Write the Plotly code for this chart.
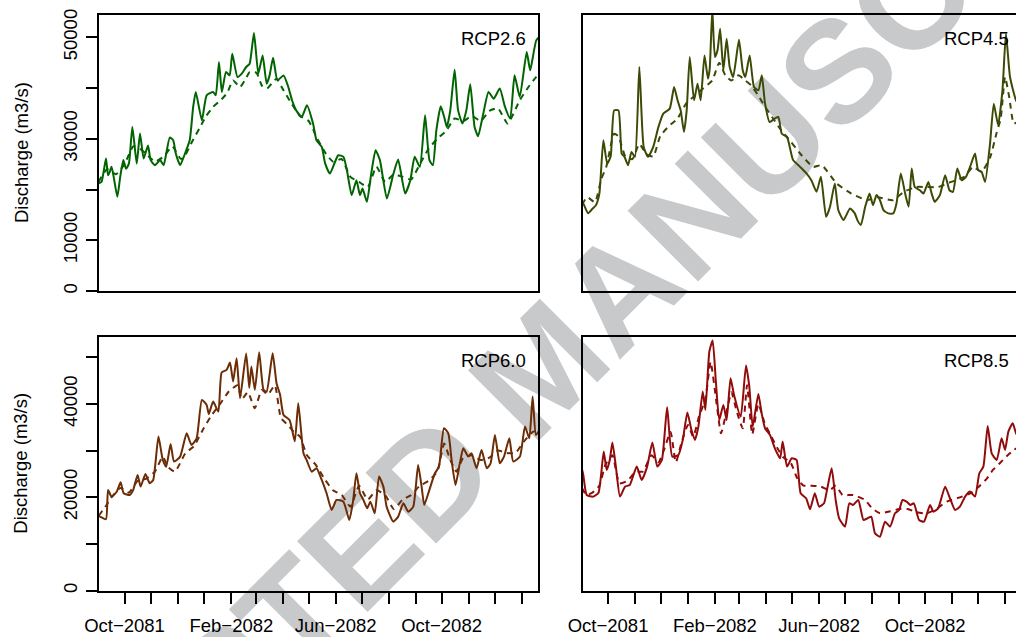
import pandas as pd
import plotly.graph_objects as go

# ---------------- data (day offsets from 2081-09-01, discharge m3/s) ----------------
rcp26_solid_day = [0, 3.5, 8.6, 11, 13, 15, 17.5, 21.7, 25, 28.6, 31.7, 35, 39, 44, 47.8, 52, 57, 60, 65, 71,
                   75, 82, 86, 89, 94, 99.6, 105, 109, 112, 119, 124.5, 132, 135, 138.7, 142, 146.8, 151, 154, 160, 165,
                   170, 174, 179, 184, 189, 193.6, 197, 201, 206, 213, 218, 223, 228, 234, 240, 247, 251, 257, 261, 266.5,
                   276, 282, 286, 291.5, 297, 301, 304, 309, 314, 319, 324, 332, 339.6, 345, 353, 359, 364, 370, 376, 381,
                   385, 389, 394, 398, 401, 405, 410, 414, 419, 423.5, 428, 433, 437, 443, 449, 455, 462, 468, 474, 479,
                   485, 493, 497, 504, 510]
rcp26_solid_q = [21190, 21500, 26100, 22800, 23500, 24500, 22500, 18560, 22500, 25800, 24100, 25100, 32340, 25100, 31030, 26100, 28700, 25800, 24800, 25800,
                 24800, 30240, 29700, 27100, 24800, 27100, 29700, 36280, 39230, 33650, 38570, 39230, 38570, 45130, 39230, 43160, 42500, 46770, 42180, 42840,
                 44150, 44800, 50840, 42840, 46440, 40870, 42500, 45990, 41520, 42500, 40500, 37500, 35500, 34300, 36600, 33000, 29700, 28400, 25100, 23150,
                 26760, 26440, 23800, 18900, 21840, 18900, 20200, 17580, 23150, 27750, 25800, 18240, 23150, 25900, 19200, 21840, 26440, 24470, 34640, 25800,
                 24800, 31700, 36400, 34300, 32340, 35600, 43600, 35600, 33000, 35600, 40740, 32340, 30500, 34960, 39230, 37900, 39900, 36300, 33980, 42500,
                 38240, 47100, 43500, 49400, 50500]
rcp26_dash_day = [0, 10, 20, 30, 40, 48, 55, 65, 75, 85, 95, 100, 108, 117, 124, 132, 140, 148, 155, 163,
                  170, 174, 182, 188, 194, 200, 205, 213, 222, 232, 242, 252, 262, 270, 280, 290, 300, 310, 320, 330,
                  340, 350, 360, 370, 380, 390, 400, 410, 420, 430, 440, 450, 460, 471, 485, 495, 504, 510]
rcp26_dash_q = [21500, 24000, 23000, 25000, 28500, 28000, 27000, 25500, 26500, 28500, 26000, 26800, 29500, 32300, 34500, 36300, 37500, 39000, 41500, 40200,
                42000, 43160, 43000, 40500, 39900, 41000, 41850, 39560, 37000, 34500, 33500, 30000, 27000, 25500, 26000, 22500, 21500, 20500, 24500, 21500,
                23000, 22500, 22000, 25000, 28000, 30000, 31500, 34000, 33500, 34500, 33500, 35500, 36000, 33000, 37600, 40200, 42200, 43000]

rcp45_solid_day = [0, 1.5, 7, 12, 16, 20, 24.6, 29, 33, 37, 42, 45.7, 49, 53, 57, 61, 66, 71, 76, 82,
                   88, 93.6, 101, 106, 110, 113.6, 117.4, 120.5, 124, 129, 133, 136.6, 141, 145, 147, 150, 153, 156, 159, 162.7,
                   166.5, 170, 174, 180.7, 185, 188, 193, 198, 203, 207, 210.7, 216, 222, 226, 230, 236, 243, 251, 258.6, 264,
                   270, 275, 281, 285.5, 291, 295, 301, 308.5, 314, 317, 321, 326, 331, 335, 339, 343, 347, 352.6, 358.4, 362,
                   367, 372, 376, 379.5, 383, 389, 393, 398.7, 402.5, 406, 412, 418, 423, 427, 432, 437, 442, 446.7, 452.4, 456,
                   460, 464, 469.7, 474, 479, 484, 488, 492.7, 499.6, 506]
rcp45_solid_q = [17500, 17250, 15300, 16200, 16900, 19200, 29700, 25100, 26500, 35600, 35600, 27100, 26440, 24800, 27400, 26440, 44150, 28400, 26440, 28400,
                 32340, 34960, 35950, 40200, 37590, 35600, 31360, 35600, 46120, 37590, 40870, 37590, 46440, 41850, 43800, 55500, 46120, 47450, 51700, 43500,
                 49700, 44150, 42180, 49500, 43500, 42180, 46440, 40200, 39560, 42500, 36930, 33300, 34000, 34300, 31000, 30370, 25800, 24470, 23150, 21840,
                 19550, 22500, 14630, 16600, 21200, 15960, 13970, 16270, 15300, 13970, 13000, 16600, 19200, 16920, 18900, 17900, 15960, 15300, 15300, 17250,
                 23150, 19200, 16600, 24140, 20500, 19860, 19200, 21500, 19200, 17580, 18900, 22830, 19860, 19530, 24140, 21840, 22500, 24470, 27100, 23800,
                 23470, 21500, 29060, 36930, 32670, 39560, 50700, 42180, 37590, 36000]
rcp45_dash_day = [0, 6, 15, 22, 28, 37, 42, 50, 58, 66, 74, 82, 90, 100, 110, 120, 130, 140, 150, 158,
                  165, 172, 180, 188, 195, 203, 210, 220, 230, 240, 251, 266, 276, 293, 310, 328, 340, 358, 370, 385,
                  397, 410, 425, 440, 450, 460, 470, 477, 482, 487, 492, 497, 503]
rcp45_dash_q = [17000, 18500, 17500, 22000, 24500, 31000, 30500, 26500, 26000, 29000, 27000, 26500, 30500, 32500, 34000, 37000, 38500, 40000, 41500, 45000,
                42500, 41500, 42500, 41500, 40500, 38500, 36500, 34000, 31500, 29500, 27100, 24470, 24800, 21200, 19200, 17900, 18500, 17900, 19500, 20500,
                20500, 20500, 21500, 22500, 24470, 23500, 26440, 31000, 34000, 42180, 38000, 33000, 33500]

rcp60_solid_day = [0, 1.7, 8.6, 11, 15, 21, 25.5, 29, 36, 40, 45, 48.5, 54, 59, 63, 69, 74, 78, 83, 87,
                   94, 101.5, 107, 113, 119, 124.5, 127, 132, 138, 141.8, 147.6, 151.4, 155, 159, 163, 170, 173.6, 176, 180, 185,
                   190, 193.6, 200.5, 205, 209, 213, 220, 226, 230, 236, 239.6, 245.4, 251, 257, 262.6, 268.4, 274, 282, 288.7, 293,
                   297, 301, 305, 309.4, 313, 318, 323, 328, 331.7, 339.4, 345, 351, 356.6, 362.4, 368, 372, 375, 379.7, 387.3, 392,
                   397.7, 402.7, 406.5, 411, 416, 420, 425.7, 429.5, 435.3, 441, 447, 451.4, 456.4, 462, 466.8, 473, 477.5, 485.2, 491, 496,
                   499.8, 503.6, 508]
rcp60_solid_q = [15900, 15860, 15300, 21580, 20150, 21200, 23220, 20860, 20500, 21600, 24800, 22300, 25000, 23000, 23700, 33000, 28000, 26570, 31430, 27650,
                 28720, 33720, 31220, 32640, 40860, 39790, 37860, 40500, 38360, 46720, 47290, 48860, 44800, 49780, 41220, 50780, 43430, 48000, 43000, 51070,
                 43000, 42640, 50860, 44430, 42000, 37650, 36570, 32000, 40150, 29430, 28000, 25500, 26220, 23720, 20860, 17290, 19430, 19070, 15150, 19070,
                 25150, 20860, 19430, 17650, 19070, 16580, 24440, 22290, 18000, 14790, 15860, 18720, 16930, 18000, 26930, 22290, 18360, 20860, 25150, 26570,
                 34790, 33720, 28000, 22650, 27290, 30500, 28720, 29430, 26220, 30140, 26220, 27290, 33360, 27290, 28720, 32650, 27650, 28720, 35150, 32650,
                 41570, 33360, 34500]
rcp60_dash_day = [0, 8, 15, 25, 35, 45, 55, 65, 74, 80, 88, 100, 110, 120, 130, 140, 150, 160, 165, 172,
                  180, 188, 195, 203, 210, 218, 225, 232, 240, 250, 260, 270, 280, 290, 300, 310, 320, 330, 340, 350,
                  360, 370, 380, 390, 398, 405, 412, 420, 430, 440, 450, 460, 470, 480, 490, 500, 508]
rcp60_dash_q = [16000, 18000, 20000, 22000, 21000, 23500, 24000, 25500, 28700, 26500, 25500, 29430, 31000, 34430, 37500, 40000, 42650, 44000, 41000, 42500,
                39070, 43000, 42000, 44000, 37000, 35500, 34000, 33000, 29000, 27000, 24000, 21500, 20500, 18000, 22500, 19500, 21500, 20500, 17500, 19500,
                20500, 22500, 23500, 25500, 31500, 28000, 25500, 28500, 29000, 28000, 28500, 30000, 29500, 29500, 32000, 34000, 34500]

rcp85_solid_day = [0, 1.5, 5.4, 13, 19, 25, 28.4, 32, 35, 39, 43.7, 49.5, 55, 63, 68.7, 75, 81, 86.7, 92, 98,
                   104, 111, 116, 121.3, 126, 130, 134, 139, 142, 146.6, 150.4, 154, 158, 162.7, 166.5, 171, 175, 182.7, 188.8, 192.6,
                   196.5, 203, 206.8, 210.7, 216.4, 222, 228, 231, 236, 241.4, 247, 251.7, 258, 262.5, 268, 273, 278.6, 282.4, 287.4, 292,
                   296, 302.8, 307.7, 312, 318, 324, 328.5, 333, 337.3, 343, 348.8, 354.6, 360.3, 365, 369, 373.7, 378, 382, 388, 393.7,
                   400.6, 404.5, 410, 418, 423.6, 429.4, 435, 441, 446.7, 452.4, 457.4, 462, 467, 471.6, 477.4, 483, 487, 490.8, 495.8, 499.6,
                   506]
rcp85_solid_q = [26000, 24790, 20500, 20150, 21000, 29790, 25860, 28000, 31720, 26580, 20150, 22290, 22650, 26580, 23720, 26580, 31720, 26580, 28000, 39290,
                 28720, 29070, 32290, 38150, 34430, 32290, 35150, 42650, 38720, 51220, 53580, 45070, 36570, 39790, 36570, 45500, 41930, 37290, 48220, 43720,
                 35150, 42150, 38000, 34790, 33360, 30500, 28360, 31930, 26580, 28360, 28000, 20860, 19790, 17430, 20860, 18000, 18720, 21930, 26220, 19430,
                 15500, 13720, 18720, 18360, 19430, 15150, 15500, 15860, 12290, 11570, 14790, 13720, 16580, 17290, 19430, 19070, 18360, 18720, 15150, 14790,
                 18360, 16930, 17650, 22290, 19790, 17290, 18000, 20150, 21220, 20150, 25150, 26580, 35290, 29430, 28000, 32650, 30150, 34080, 35860, 33720,
                 32000]
rcp85_dash_day = [0, 5, 12, 20, 27, 35, 43, 52, 62, 70, 80, 88, 95, 102, 108, 115, 122, 128, 135, 142,
                  148, 155, 160, 166, 172, 178, 185, 190, 196, 203, 210, 218, 225, 232, 240, 248, 255, 265, 275, 285,
                  292, 300, 312, 325, 335, 343, 355, 365, 375, 385, 397, 408, 420, 435, 447, 458, 466, 473, 482, 490,
                  497, 505]
rcp85_dash_q = [22000, 20500, 21000, 22500, 27000, 29000, 23000, 23500, 25500, 25500, 29000, 27500, 30500, 34000, 27500, 32000, 35500, 33000, 37500, 41000,
                49000, 40000, 33720, 38000, 42500, 38500, 34790, 44000, 33500, 40000, 36000, 33000, 30500, 28500, 27500, 24000, 22500, 22500, 22300, 21500,
                22500, 20500, 20500, 19500, 17500, 16580, 17000, 17500, 17500, 16800, 16580, 17500, 19100, 20000, 20860, 22500, 24000, 25860, 27500, 29000,
                30150, 31000]

scenario_names = ["RCP2.6", "RCP4.5", "RCP6.0", "RCP8.5"]
scenario_colors = ["#006400", "#3b4b06", "#6b2c06", "#920b0b"]

month_ticks = ["2081-09-01", "2081-10-01", "2081-11-01", "2081-12-01", "2082-01-01", "2082-02-01",
               "2082-03-01", "2082-04-01", "2082-05-01", "2082-06-01", "2082-07-01", "2082-08-01",
               "2082-09-01", "2082-10-01", "2082-11-01", "2082-12-01", "2083-01-01", "2083-02-01"]
month_labels = ["", "Oct\u22122081", "", "", "", "Feb\u22122082", "", "", "", "Jun\u22122082", "", "", "",
                "Oct\u22122082", "", "", "", ""]
y_ticks = [0, 10000, 20000, 30000, 40000, 50000]
y_labels_top = ["0", "10000", "", "30000", "", "50000"]
y_labels_bottom = ["0", "", "20000", "", "40000", ""]

# ---------------- figure ----------------
W, H = 1016, 637
start = pd.Timestamp("2081-09-01")


def to_dates(days):
    return [(start + pd.Timedelta(days=d)).strftime("%Y-%m-%d %H:%M:%S") for d in days]


series = [
    (rcp26_solid_day, rcp26_solid_q, rcp26_dash_day, rcp26_dash_q),
    (rcp45_solid_day, rcp45_solid_q, rcp45_dash_day, rcp45_dash_q),
    (rcp60_solid_day, rcp60_solid_q, rcp60_dash_day, rcp60_dash_q),
    (rcp85_solid_day, rcp85_solid_q, rcp85_dash_day, rcp85_dash_q),
]

fig = go.Figure()
for i, (sd, sq, dd, dq) in enumerate(series):
    ax = "" if i == 0 else str(i + 1)
    col = scenario_colors[i]
    fig.add_trace(go.Scatter(x=to_dates(dd), y=dq, mode="lines", xaxis="x" + ax, yaxis="y" + ax,
                             line=dict(color=col, width=2, dash="6px,5px", shape="spline", smoothing=0.5),
                             showlegend=False, name=scenario_names[i] + " (dashed)"))
    fig.add_trace(go.Scatter(x=to_dates(sd), y=sq, mode="lines", xaxis="x" + ax, yaxis="y" + ax,
                             line=dict(color=col, width=2, shape="spline", smoothing=0.5),
                             showlegend=False, name=scenario_names[i]))

px_left = (99, 538)
px_right = (582.5, 1016)
py_top = (15, 291)
py_bot = (336.7, 590.7)


def xd(p):
    return [p[0] / W, p[1] / W]


def yd(p):
    return [1 - p[1] / H, 1 - p[0] / H]


FONT = "Liberation Sans, Arial, sans-serif"
x_left_range = ["2081-09-01 14:00", "2083-01-20 00:00"]
x_right_range = ["2081-09-01 14:00", "2083-01-13 14:00"]
common_x = dict(showline=True, linecolor="black", linewidth=1.8, mirror=True, showgrid=False,
                zeroline=False, type="date", automargin=False)
common_y = dict(showline=True, linecolor="black", linewidth=1.8, showgrid=False, zeroline=False,
                range=[0, 54400], tickvals=y_ticks, automargin=False)

layouts = {}
panels = [(px_left, py_top, x_left_range, True, False, y_labels_top),
          (px_right, py_top, x_right_range, False, False, y_labels_top),
          (px_left, py_bot, x_left_range, True, True, y_labels_bottom),
          (px_right, py_bot, x_right_range, False, True, y_labels_bottom)]
for i, (pxr, pyr, xr, has_y, has_x, ylab) in enumerate(panels):
    ax = "" if i == 0 else str(i + 1)
    xa = dict(common_x, domain=xd(pxr), range=xr, anchor="y" + ax)
    if has_x:
        xa.update(tickvals=month_ticks, ticktext=month_labels, ticks="outside", ticklen=11,
                  tickwidth=1.6, tickcolor="black", showticklabels=True, tickangle=0,
                  ticklabelstandoff=6,
                  tickfont=dict(family=FONT, size=18.5, color="black"))
    else:
        xa.update(ticks="", showticklabels=False)
    ya = dict(common_y, domain=yd(pyr), anchor="x" + ax)
    if has_y:
        ya.update(mirror=True, ticks="outside", ticklen=11, tickwidth=1.6, tickcolor="black",
                  ticktext=ylab, tickangle=-90, showticklabels=True, ticklabelstandoff=2,
                  tickfont=dict(family=FONT, size=18.5, color="black"))
    else:
        ya.update(mirror=False, ticks="", showticklabels=False)
    layouts["xaxis" + ax] = xa
    layouts["yaxis" + ax] = ya

annotations = []
label_pos = [(528, 38.5), (1011, 38.5), (528, 360), (1011, 360)]
for i, (lx, ly) in enumerate(label_pos):
    annotations.append(dict(x=lx / W, y=1 - ly / H, xref="paper", yref="paper", text=scenario_names[i],
                            showarrow=False, xanchor="right", yanchor="middle",
                            font=dict(family=FONT, size=18.5, color="black")))
for cy in [(py_top[0] + py_top[1]) / 2, (py_bot[0] + py_bot[1]) / 2]:
    annotations.append(dict(x=21 / W, y=1 - cy / H, xref="paper", yref="paper", text="Discharge (m3/s)",
                            showarrow=False, xanchor="center", yanchor="middle", textangle=-90,
                            font=dict(family=FONT, size=18.5, color="black")))

wm_cx, wm_cy = 532 / W, 1 - 357 / H
shapes = [dict(type="rect", xref="paper", yref="paper", x0=wm_cx - 0.01, x1=wm_cx + 0.01,
               y0=wm_cy - 0.01, y1=wm_cy + 0.01, layer="below", line=dict(width=0),
               fillcolor="rgba(0,0,0,0)",
               label=dict(text="ACCEPTED MANUSCRIPT", textangle=-45, textposition="middle center",
                          font=dict(family="Liberation Sans, Arial, sans-serif", size=145,
                                    color="#c8c9cb", weight="bold")))]

fig.update_layout(width=W, height=H, margin=dict(l=0, r=0, t=0, b=0, autoexpand=False),
                  paper_bgcolor="white", plot_bgcolor="rgba(0,0,0,0)",
                  annotations=annotations, shapes=shapes, showlegend=False, **layouts)
fig.write_html("out.html")
